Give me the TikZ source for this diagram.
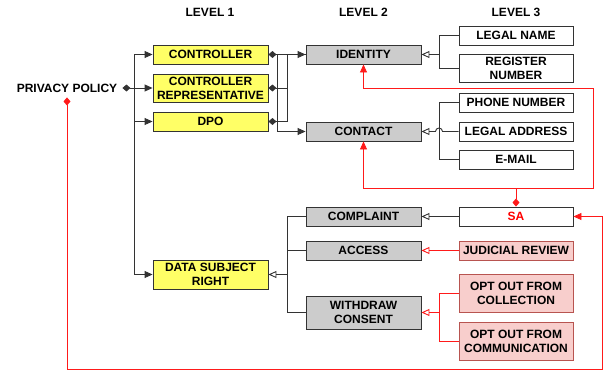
\documentclass[tikz,border=0pt]{standalone}
\usepackage{fontspec}
\setmainfont{Liberation Sans}
\usepackage{xcolor}
\usepackage{tikz}
\usetikzlibrary{calc, arrows.meta}

\definecolor{boxyellow}{HTML}{FFFF66}
\definecolor{boxgray}{HTML}{CCCCCC}
\definecolor{boxpink}{HTML}{F8CECC}
\definecolor{pinkborder}{HTML}{B85450}
\definecolor{linkred}{HTML}{FF1A1A}

\tikzset{
  diam/.tip={Diamond[length=8pt,width=7pt]},
  tri/.tip={Triangle[length=8pt,width=7pt]},
  otri/.tip={Triangle[open,length=8pt,width=7pt]},
}

\begin{document}
\begin{tikzpicture}[x=1pt, y=-1pt,
  every node/.style={font=\fontsize{12}{14}\selectfont\bfseries, align=center},
  box/.style={draw=black!80, line width=0.9pt, minimum width=115pt, minimum height=19pt, inner sep=0pt},
  lvlone/.style={box, fill=boxyellow},
  lvltwo/.style={box, fill=boxgray},
  lvlthree/.style={box, fill=white, minimum width=114pt},
  lvlred/.style={box, fill=boxpink, draw=pinkborder, minimum width=114pt},
  link/.style={draw=black!80, line width=0.9pt},
  redlink/.style={draw=linkred, line width=0.9pt}]
  \useasboundingbox (0, 0) rectangle (605, 375);

  % Column headings
  \node (headone) at (210, 12) {LEVEL 1};
  \node (headtwo) at (363.5, 12) {LEVEL 2};
  \node (headthree) at (516, 12) {LEVEL 3};

  % Root
  \node[inner sep=5pt] (pp) at (67, 88) {PRIVACY POLICY};

  % Level 1
  \node[lvlone] (ctrl) at (210.5, 54.5) {CONTROLLER};
  \node[lvlone, minimum height=28pt] (rep) at (210.5, 88) {CONTROLLER\\REPRESENTATIVE};
  \node[lvlone] (dpo) at (210.5, 121.5) {DPO};
  \node[lvlone, minimum height=29pt] (dsr) at (210.5, 274.5) {DATA SUBJECT\\RIGHT};

  % Level 2
  \node[lvltwo] (identity) at (363.5, 54.5) {IDENTITY};
  \node[lvltwo] (contact) at (363.5, 131.5) {CONTACT};
  \node[lvltwo] (complaint) at (363.5, 216.5) {COMPLAINT};
  \node[lvltwo] (access) at (363.5, 250.5) {ACCESS};
  \node[lvltwo, minimum height=33pt] (withdraw) at (363.5, 312.5) {WITHDRAW\\CONSENT};

  % Level 3
  \node[lvlthree] (legalname) at (516, 35.5) {LEGAL NAME};
  \node[lvlthree, minimum height=28pt] (register) at (516, 68) {REGISTER\\NUMBER};
  \node[lvlthree] (phone) at (516, 102.5) {PHONE NUMBER};
  \node[lvlthree] (address) at (516, 131.5) {LEGAL ADDRESS};
  \node[lvlthree] (email) at (516, 159.5) {E-MAIL};
  \node[lvlthree, text=red] (sa) at (516, 216.5) {SA};
  \node[lvlred] (judicial) at (516, 250.5) {JUDICIAL REVIEW};
  \node[lvlred, minimum height=38pt] (optcol) at (516, 293) {OPT OUT FROM\\COLLECTION};
  \node[lvlred, minimum height=38pt] (optcom) at (516, 341) {OPT OUT FROM\\COMMUNICATION};

  % Bus lines
  \coordinate (trunk) at (134, 88);
  \coordinate (busa) at (277, 0);
  \coordinate (busb) at (287, 0);
  \coordinate (busc) at (439, 0);
  \coordinate (redbus) at (593, 188);
  \coordinate (redtop) at (593, 88);
  \coordinate (redcorner) at (602, 369);

  % Root to level 1
  \draw[link, diam-tri] (pp.east) -- (rep.west);
  \draw[link, -tri] (trunk) |- (ctrl.west);
  \draw[link, -tri] (trunk) |- (dpo.west);
  \draw[link, -tri] (trunk) |- (dsr.west);

  % Level 1 to level 2
  \draw[link, diam-tri] (ctrl.east) -- (identity.west);
  \draw[link, -tri] (ctrl.east -| busa) |- (contact.west);
  \draw[link, diam-] (rep.east) -- (rep.east -| busb) |- (identity.west);
  \draw[link, diam-] (dpo.east) -- (dpo.east -| busb) |- (identity.west);
  \draw[link, otri-] (dsr.east) -- (dsr.east -| busb) |- (complaint.west);
  \draw[link] (dsr.east -| busb) |- (access.west);
  \draw[link] (dsr.east -| busb) |- (withdraw.west);

  % Level 2 to level 3
  \draw[link, otri-] (identity.east) -- (identity.east -| busc) |- (legalname.west);
  \draw[link] (identity.east -| busc) |- (register.west);
  \draw[link] (phone.west) -- (phone.west -| busc) -- (email.west -| busc) -- (email.west);
  \draw[link, otri-] (contact.east) -- ($(contact.east -| busc) + (-3.5, 0)$)
    arc[start angle=180, end angle=0, radius=3.5pt] -- (address.west);
  \draw[link, otri-] (complaint.east) -- (sa.west);
  \draw[redlink, otri-] (access.east) -- (judicial.west);
  \draw[redlink, otri-] (withdraw.east) -- (withdraw.east -| busc);
  \draw[redlink] (optcol.west) -- (optcol.west -| busc) -- (optcom.west -| busc) -- (optcom.west);

  % Supervisory authority links
  \draw[redlink, diam-tri] (sa.north) -- (sa.north |- redbus) -| (contact.south);
  \draw[redlink, -tri] (sa.north |- redbus) -- (redbus) -- (redtop) -| (identity.south);
  \draw[redlink, diam-tri] (pp.south) |- (redcorner) |- (sa.east);
\end{tikzpicture}
\end{document}
